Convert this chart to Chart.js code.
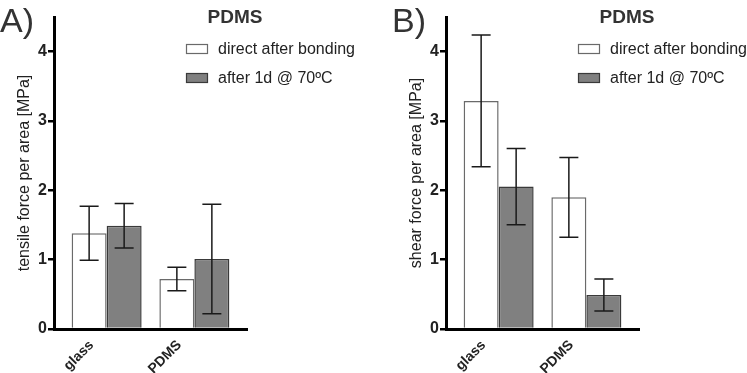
<!DOCTYPE html>
<html>
<head>
<meta charset="utf-8">
<script src="https://cdn.jsdelivr.net/npm/chart.js@4.4.1/dist/chart.umd.min.js"></script>
<style>
    body { margin: 0; background: #fff; }
    #wrap { position: relative; width: 747px; height: 373px; }
    canvas { position: absolute; top: 0; }
    #chartA { left: 0; }
    #chartB { left: 392px; }
</style>
</head>
<body>
<div id="wrap">
    <canvas id="chartA" width="355" height="373"></canvas>
    <canvas id="chartB" width="355" height="373"></canvas>
</div>
<script>
const categories = ['glass', 'PDMS'];
const seriesNames = ['direct after bonding', 'after 1d @ 70ºC'];
const yTicks = [0, 1, 2, 3, 4];

// panel A - tensile
const tensileDirect = [1.38, 0.72];
const tensileDirectErr = [0.39, 0.17];
const tensileAged = [1.49, 1.01];
const tensileAgedErr = [0.32, 0.79];

// panel B - shear
const shearDirect = [3.29, 1.90];
const shearDirectErr = [0.95, 0.575];
const shearAged = [2.055, 0.49];
const shearAgedErr = [0.55, 0.23];

const FONT = '"Liberation Sans", Arial, Helvetica, sans-serif';
const fills = ['#ffffff', '#808080'];
const borders = ['#6a6a6a', '#3a3a3a'];

// error bars + panel letter + title + legend
const decorPlugin = {
    id: 'decor',
    afterDatasetsDraw(chart) {
        const ctx = chart.ctx;
        const y = chart.scales.y;
        ctx.save();
        ctx.strokeStyle = '#1a1a1a';
        ctx.lineWidth = 1.5;
        chart.data.datasets.forEach((ds, di) => {
            const meta = chart.getDatasetMeta(di);
            meta.data.forEach((bar, i) => {
                const v = ds.data[i].y;
                const e = ds.errors[i];
                const top = y.getPixelForValue(v + e);
                const bot = y.getPixelForValue(v - e);
                ctx.beginPath();
                ctx.moveTo(bar.x, top);
                ctx.lineTo(bar.x, bot);
                ctx.moveTo(bar.x - 9.5, top);
                ctx.lineTo(bar.x + 9.5, top);
                ctx.moveTo(bar.x - 9.5, bot);
                ctx.lineTo(bar.x + 9.5, bot);
                ctx.stroke();
            });
        });
        ctx.restore();
    },
    afterDraw(chart) {
        const ctx = chart.ctx;
        const opts = chart.options.plugins.decor;
        ctx.save();
        // panel letter
        ctx.fillStyle = '#333';
        ctx.font = '34px ' + FONT;
        ctx.textAlign = 'left';
        ctx.textBaseline = 'alphabetic';
        ctx.fillText(opts.letter, 0, 32);
        // title
        ctx.font = 'bold 19px ' + FONT;
        ctx.textAlign = 'center';
        ctx.textBaseline = 'middle';
        ctx.fillText('PDMS', 235, 18);
        // legend
        const rows = [49, 78];
        chart.data.datasets.forEach((ds, di) => {
            ctx.fillStyle = ds.backgroundColor;
            ctx.strokeStyle = ds.borderColor;
            ctx.lineWidth = 1.2;
            ctx.fillRect(186, rows[di] - 5, 22, 10);
            ctx.strokeRect(186.5, rows[di] - 4.5, 21, 9);
            ctx.fillStyle = '#222';
            ctx.font = '16px ' + FONT;
            ctx.textAlign = 'left';
            ctx.fillText(ds.label, 218, rows[di] + 1);
        });
        ctx.restore();
    }
};

function makeChart(id, letter, yTitle, direct, directErr, aged, agedErr) {
    const toPoints = vals => vals.map((v, i) => ({ x: i, y: v }));
    return new Chart(document.getElementById(id), {
        type: 'bar',
        data: {
            datasets: [
                {
                    label: seriesNames[0],
                    data: toPoints(direct),
                    errors: directErr,
                    backgroundColor: fills[0],
                    borderColor: borders[0],
                    borderWidth: 1.5
                },
                {
                    label: seriesNames[1],
                    data: toPoints(aged),
                    errors: agedErr,
                    backgroundColor: fills[1],
                    borderColor: borders[1],
                    borderWidth: 1.5
                }
            ]
        },
        options: {
            responsive: false,
            animation: false,
            categoryPercentage: 0.798,
            barPercentage: 1,
            layout: { padding: { top: 17, right: 108, bottom: 0, left: 0 } },
            plugins: {
                legend: { display: false },
                tooltip: { enabled: false },
                decor: { letter: letter }
            },
            scales: {
                x: {
                    type: 'linear',
                    offset: false,
                    min: -0.6,
                    max: 1.6,
                    afterBuildTicks: s => { s.ticks = categories.map((c, i) => ({ value: i })); },
                    afterFit: s => { s.height = 44; },
                    grid: { display: false },
                    border: { display: true, color: '#000', width: 3 },
                    ticks: {
                        callback: v => categories[v],
                        minRotation: 45,
                        maxRotation: 45,
                        labelOffset: -15,
                        padding: 0,
                        color: '#222',
                        font: { family: FONT, size: 14, weight: 'bold' }
                    }
                },
                y: {
                    min: 0,
                    max: 4.5,
                    afterBuildTicks: s => { s.ticks = yTicks.map(v => ({ value: v })); },
                    afterFit: s => { s.width = 54; },
                    grid: {
                        display: true,
                        drawOnChartArea: false,
                        drawTicks: true,
                        tickLength: 6,
                        color: '#000',
                        lineWidth: 2.5
                    },
                    border: { display: true, color: '#000', width: 3 },
                    ticks: {
                        padding: 1,
                        color: '#222',
                        font: { family: FONT, size: 16, weight: 'bold' }
                    },
                    title: {
                        display: true,
                        text: yTitle,
                        color: '#222',
                        padding: { top: 15, bottom: 0 },
                        font: { family: FONT, size: 16 }
                    }
                }
            }
        },
        plugins: [decorPlugin]
    });
}

makeChart('chartA', 'A)', 'tensile force per area [MPa]', tensileDirect, tensileDirectErr, tensileAged, tensileAgedErr);
makeChart('chartB', 'B)', 'shear force per area [MPa]', shearDirect, shearDirectErr, shearAged, shearAgedErr);
</script>
</body>
</html>
